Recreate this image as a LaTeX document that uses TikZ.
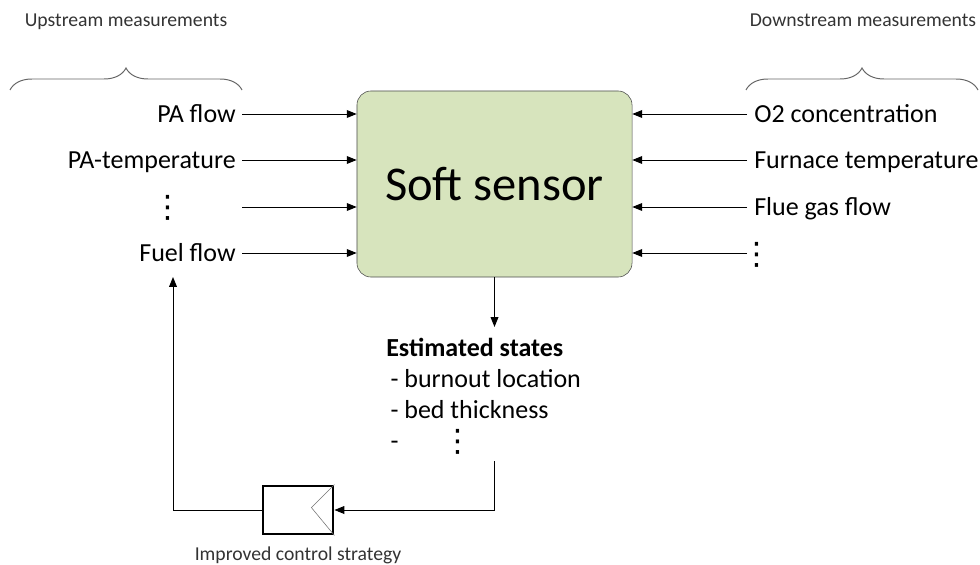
\documentclass[tikz,border=0pt]{standalone}
\usepackage{fontspec}
\setmainfont{Carlito}
\newfontfamily\symfont{DejaVu Sans}
\usetikzlibrary{arrows.meta,decorations.pathreplacing,positioning}
\definecolor{sensorgreen}{HTML}{D7E4BD}
\newcommand{\vdts}{{\symfont\fontsize{22}{24}\selectfont ⋮}}

\begin{document}
\begin{tikzpicture}[x=0.025cm,y=-0.025cm,
  lbl/.style={font=\fontsize{18.5}{22}\selectfont,inner sep=0pt},
  head/.style={font=\fontsize{14}{16}\selectfont,text=black!80,inner sep=0pt},
  feed/.style={-{Triangle[length=7pt,width=5.5pt]},line width=0.7pt},
  grp/.style={decorate,decoration={brace,amplitude=0.55cm},draw=black!60,line width=0.7pt}]
  \useasboundingbox (0,0) rectangle (980,565);
  % headings and braces
  \node[head,anchor=base] (uphead) at (126,27) {Upstream measurements};
  \node[head,anchor=base] (downhead) at (863,27) {Downstream measurements};
  \draw[grp] (10,90) -- (242,90);
  \draw[grp] (746,90) -- (978,90);
  % soft sensor
  \node[draw=black!70,fill=sensorgreen,rounded corners=10pt,minimum width=6.875cm,minimum height=4.65cm,
    font=\fontsize{34.5}{40}\selectfont] (sensor) at (494.5,184) {Soft sensor};
  % upstream inputs
  \foreach \t/\y [count=\i] in {PA flow/114,PA-temperature/160,Fuel flow/253}
    \node[lbl,anchor=base east] (up\i) at (236,{\y+8}) {\t};
  \node[lbl] (updots) at (168,208) {\vdts};
  \foreach \y [count=\i] in {114,160,207,253} {
    \coordinate (in\i) at (242,\y);
    \draw[feed] (in\i) -- (in\i -| sensor.west);
  }
  % downstream inputs
  \foreach \t/\y [count=\i] in {O2 concentration/114,Furnace temperature/160,Flue gas flow/207}
    \node[lbl,anchor=base west] (dn\i) at (754,{\y+8}) {\t};
  \node[lbl] (dndots) at (757,255) {\vdts};
  \foreach \y [count=\i] in {114,160,207,253} {
    \coordinate (out\i) at (747,\y);
    \draw[feed] (out\i) -- (out\i -| sensor.east);
  }
  % estimated states
  \node[lbl,anchor=north west,align=left,inner ysep=8pt] (est) at (386,327)
    {\textbf{Estimated states}\\
     \hspace*{3pt}- burnout location\\
     \hspace*{3pt}- bed thickness\\
     \hspace*{3pt}-};
  \node[lbl] (estdots) at (458,442) {\vdts};
  \draw[feed] (sensor.south) -- (sensor.south |- est.north);
  % control loop
  \node[draw,line width=2pt,minimum width=1.75cm,minimum height=1.2cm] (ctrl) at (298,510) {};
  \draw[black!55] (ctrl.north east) -- ++(-23,23) -- (ctrl.south east);
  \node[head,below=8pt of ctrl] (ctrllbl) {Improved control strategy};
  \coordinate (fb) at (173,277);
  \draw[feed] (est.south -| sensor.south) |- (ctrl.east);
  \draw[feed] (ctrl.west) -| (fb);
\end{tikzpicture}
\end{document}
